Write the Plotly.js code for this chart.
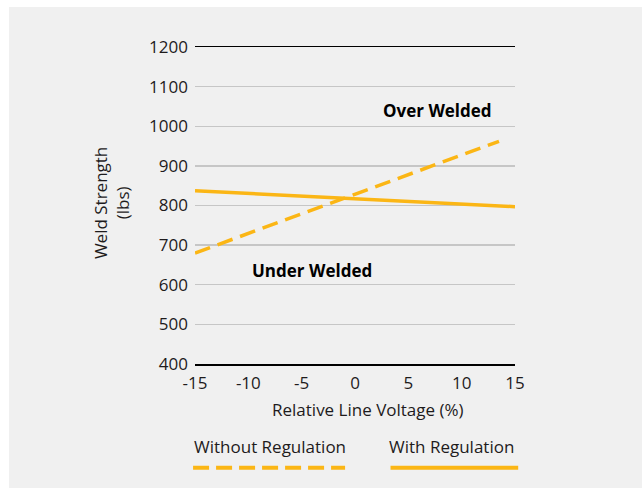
<!DOCTYPE html>
<html>
<head>
<meta charset="utf-8">
<script src="https://cdn.plot.ly/plotly-3.0.1.min.js"></script>
<style>
  html, body { margin: 0; padding: 0; background: #ffffff; width: 642px; height: 489px; overflow: hidden; }
  #chart { position: absolute; left: 9px; top: 7px; width: 633px; height: 481px; }
</style>
</head>
<body>
<div id="chart"></div>
<script>
// ---- data ----
const withoutRegX = [-15, 13.5];       // Relative line voltage (%)
const withoutRegY = [680, 962];        // Weld strength (lbs), without regulation
const withRegX = [-15, 15];
const withRegY = [837, 797];           // Weld strength (lbs), with regulation
const xTickVals = [-15, -10, -5, 0, 5, 10, 15];
const xTickText = ['-15', '-10', '-5', '0', '5', '10', '15'];
const yTickVals = [400, 500, 600, 700, 800, 900, 1000, 1100, 1200];
const seriesNames = ['Without Regulation', 'With Regulation'];
const regionLabels = ['Over Welded', 'Under Welded'];
const regionX = [7.7, -4.0];
const regionY = [1039, 635];
const xTitle = 'Relative Line Voltage (%)';
const yTitle = 'Weld Strength<br>(lbs)';

const gold = '#fbb615';
const txt = '#1e1b1c';
const fontFam = '"Open Sans", "Noto Sans", sans-serif';
const fs = 17;

const traces = [
  { x: withoutRegX, y: withoutRegY, name: seriesNames[0], mode: 'lines',
    line: { color: gold, width: 3.5, dash: '16px,8px' }, xaxis: 'x', yaxis: 'y', hoverinfo: 'skip' },
  { x: withRegX, y: withRegY, name: seriesNames[1], mode: 'lines',
    line: { color: gold, width: 3.5 }, xaxis: 'x', yaxis: 'y', hoverinfo: 'skip' }
];

const layout = {
  width: 633, height: 481,
  margin: { l: 186, r: 127, t: 40, b: 124 },
  paper_bgcolor: '#f0f0f0', plot_bgcolor: '#f0f0f0',
  showlegend: false,
  font: { family: fontFam, size: fs, color: txt },
  xaxis: {
    range: [-15, 15], tickmode: 'array', tickvals: xTickVals, ticktext: xTickText,
    showgrid: false, zeroline: false, showline: true, mirror: true,
    linecolor: '#000000', linewidth: 1.5, ticks: '', ticklabelstandoff: 3,
    tickfont: { family: fontFam, size: fs, color: txt }
  },
  xaxis2: {
    overlaying: 'x', range: [-15, 15], tickmode: 'array', tickvals: xTickVals.slice(1),
    showticklabels: false, showgrid: false, zeroline: false, showline: false,
    ticks: 'inside', ticklen: 12, tickwidth: 1.5, tickcolor: '#000000'
  },
  yaxis: {
    range: [400, 1200], tickmode: 'array', tickvals: yTickVals,
    showgrid: true, gridcolor: '#c6c6c6', gridwidth: 1.3, zeroline: false, showline: false,
    ticks: '', ticklabelstandoff: 6,
    tickfont: { family: fontFam, size: fs, color: txt }
  },
  annotations: [
    { text: regionLabels[0], x: regionX[0], y: regionY[0], xref: 'x', yref: 'y', showarrow: false,
      font: { family: fontFam, size: fs, color: '#000', weight: 'bold' } },
    { text: regionLabels[1], x: regionX[1], y: regionY[1], xref: 'x', yref: 'y', showarrow: false,
      font: { family: fontFam, size: fs, color: '#000', weight: 'bold' } },
    { text: xTitle, x: 0.54, y: -0.142, xref: 'paper', yref: 'paper', showarrow: false,
      xanchor: 'center', yanchor: 'middle', font: { family: fontFam, size: fs, color: txt } },
    { text: yTitle, x: -0.259, y: 0.508, xref: 'paper', yref: 'paper', showarrow: false,
      textangle: -90, xanchor: 'center', yanchor: 'middle', font: { family: fontFam, size: fs, color: txt } },
    { text: seriesNames[0], x: 0.234, y: -0.261, xref: 'paper', yref: 'paper', showarrow: false,
      xanchor: 'center', yanchor: 'middle', font: { family: fontFam, size: fs, color: txt } },
    { text: seriesNames[1], x: 0.803, y: -0.261, xref: 'paper', yref: 'paper', showarrow: false,
      xanchor: 'center', yanchor: 'middle', font: { family: fontFam, size: fs, color: txt } }
  ],
  shapes: [
    { type: 'line', xref: 'paper', yref: 'paper', x0: -0.006, x1: 0.469, y0: -0.327, y1: -0.327,
      line: { color: gold, width: 4, dash: '16px,7px' } },
    { type: 'line', xref: 'paper', yref: 'paper', x0: 0.611, x1: 1.010, y0: -0.327, y1: -0.327,
      line: { color: gold, width: 4 } }
  ]
};

Plotly.newPlot('chart', traces, layout, { displayModeBar: false, staticPlot: true });
</script>
</body>
</html>
